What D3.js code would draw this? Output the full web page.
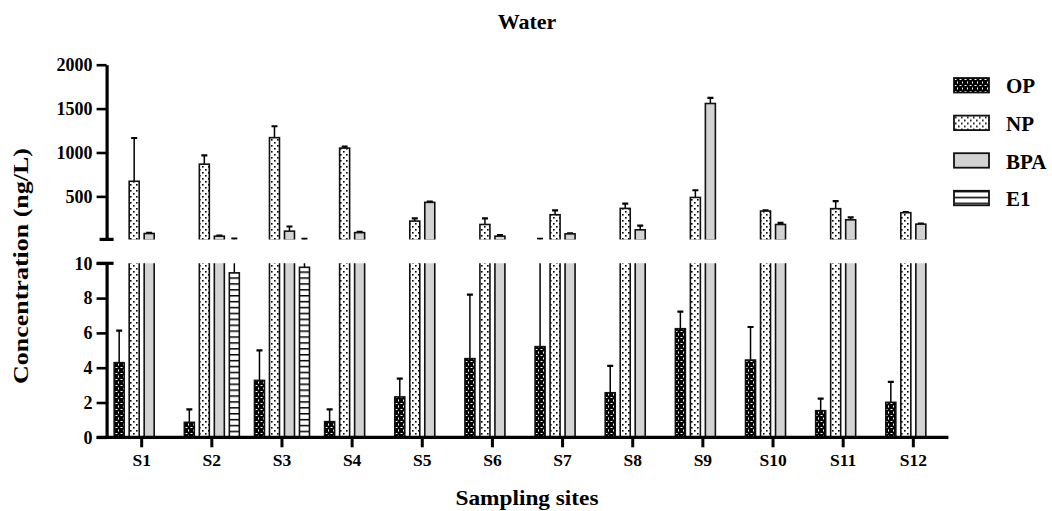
<!DOCTYPE html>
<html>
<head>
<meta charset="utf-8">
<script src="https://cdn.jsdelivr.net/npm/d3@7"></script>
<style>
  body { margin: 0; background: #fff; }
  text { font-family: "Liberation Serif", "Times New Roman", serif; font-weight: bold; }
</style>
</head>
<body>
<svg width="1052" height="511"></svg>
<script>
// data
const sites = ["S1", "S2", "S3", "S4", "S5", "S6", "S7", "S8", "S9", "S10", "S11", "S12"];
const series = ["OP", "NP", "BPA", "E1"];
const opValues  = [4.29, 0.86, 3.27, 0.9, 2.32, 4.52, 5.21, 2.56, 6.24, 4.44, 1.53, 2.01];
const opErrors  = [1.84, 0.75, 1.73, 0.71, 1.05, 3.68, 12, 1.54, 0.98, 1.9, 0.69, 1.17];
const npValues  = [672, 867, 1169, 1050, 219, 180, 291, 363, 488, 333, 360, 314];
const npErrors  = [493, 100, 130, 16, 30, 69, 49, 54, 82, 7, 87, 7];
const bpaValues = [77, 47, 104, 87, 432, 47, 73, 119, 1558, 180, 233, 184];
const bpaErrors = [8, 6, 53, 8, 8, 11, 6, 49, 65, 19, 27, 7];
const e1Values  = [0, 9.45, 9.77, 0, 0, 0, 0, 0, 0, 0, 0, 0];
const e1Errors  = [0, 8.5, 6, 0, 0, 0, 0, 0, 0, 0, 0, 0];
const upperTicks = [500, 1000, 1500, 2000];
const lowerTicks = [0, 2, 4, 6, 8, 10];

const valuesBySeries = { OP: opValues, NP: npValues, BPA: bpaValues, E1: e1Values };
const errorsBySeries = { OP: opErrors, NP: npErrors, BPA: bpaErrors, E1: e1Errors };

const svg = d3.select("svg");

const x = d3.scaleBand().domain(sites).range([106.6, 948.4]);
const inner = d3.scaleBand().domain(series).range([-27.5, 27.5]).paddingInner(1 / 3);
const yHigh = d3.scaleLinear().domain([10, 2000]).range([239.4, 64.7]);
const yLow = d3.scaleLinear().domain([0, 10]).range([437.3, 263.3]);
const axisX = x.range()[0];

// fill patterns
const defs = svg.append("defs");
const pOP = defs.append("pattern").attr("id", "pat-OP").attr("patternUnits", "userSpaceOnUse")
  .attr("width", 5).attr("height", 6);
pOP.append("rect").attr("width", 5).attr("height", 6).attr("fill", "#000");
pOP.append("rect").attr("x", 0.5).attr("y", 1).attr("width", 2).attr("height", 1).attr("fill", "#fff");
pOP.append("rect").attr("x", 3).attr("y", 3.5).attr("width", 1).attr("height", 2).attr("fill", "#fff");

const pNP = defs.append("pattern").attr("id", "pat-NP").attr("patternUnits", "userSpaceOnUse")
  .attr("width", 6).attr("height", 6);
pNP.append("rect").attr("width", 6).attr("height", 6).attr("fill", "#fff");
pNP.append("rect").attr("x", 1).attr("y", 1).attr("width", 1.6).attr("height", 1.6).attr("fill", "#000");
pNP.append("rect").attr("x", 4).attr("y", 4).attr("width", 1.6).attr("height", 1.6).attr("fill", "#000");

const pE1 = defs.append("pattern").attr("id", "pat-E1").attr("patternUnits", "userSpaceOnUse")
  .attr("width", 6).attr("height", 5.9);
pE1.append("rect").attr("width", 6).attr("height", 5.9).attr("fill", "#fff");
pE1.append("rect").attr("y", 0).attr("width", 6).attr("height", 1.5).attr("fill", "#000");

const fills = { OP: "url(#pat-OP)", NP: "url(#pat-NP)", BPA: "#d3d3d3", E1: "url(#pat-E1)" };

defs.append("clipPath").attr("id", "clip-high").append("rect")
  .attr("x", axisX).attr("y", 40).attr("width", 900).attr("height", yHigh(10) - 40);
defs.append("clipPath").attr("id", "clip-low").append("rect")
  .attr("x", axisX).attr("y", yLow(10)).attr("width", 900).attr("height", yLow(0) - yLow(10));

const bars = [];
sites.forEach((s, i) => {
  series.forEach(k => {
    bars.push({ site: s, key: k, v: valuesBySeries[k][i], e: errorsBySeries[k][i] });
  });
});
const drawn = bars.filter(d => d.v > 0);

function drawPanel(y, clipId, bottomVal, minVal) {
  const g = svg.append("g").attr("clip-path", `url(#${clipId})`);
  const bx = d => x(d.site) + x.bandwidth() / 2 + inner(d.key);
  const errs = g.selectAll(".err").data(drawn.filter(d => d.e > 0 && d.v + d.e > minVal)).join("g");
  errs.append("line")
    .attr("x1", d => bx(d) + inner.bandwidth() / 2).attr("x2", d => bx(d) + inner.bandwidth() / 2)
    .attr("y1", d => y(d.v)).attr("y2", d => y(d.v + d.e))
    .attr("stroke", "#000").attr("stroke-width", 1.5);
  errs.append("line")
    .attr("x1", d => bx(d) + inner.bandwidth() / 2 - 3).attr("x2", d => bx(d) + inner.bandwidth() / 2 + 3)
    .attr("y1", d => y(d.v + d.e)).attr("y2", d => y(d.v + d.e))
    .attr("stroke", "#000").attr("stroke-width", 2.2);
  g.selectAll(".bar").data(drawn.filter(d => d.v > minVal)).join("rect")
    .attr("x", bx)
    .attr("width", inner.bandwidth())
    .attr("y", d => y(d.v))
    .attr("height", d => y(bottomVal) - y(d.v))
    .attr("fill", d => fills[d.key])
    .attr("stroke", "#111").attr("stroke-width", 1.6);
}
drawPanel(yHigh, "clip-high", 0, 10);
drawPanel(yLow, "clip-low", 0, 0);

// y axes
function styleAxis(g) {
  g.select(".domain").attr("stroke-width", 3.2);
  g.selectAll(".tick line").attr("stroke-width", 2.6);
  g.selectAll(".tick text").attr("font-size", 18).attr("fill", "#000")
    .style("font-family", "'Liberation Serif', serif").style("font-weight", "bold");
}
svg.append("g").attr("transform", `translate(${axisX},0)`)
  .call(d3.axisLeft(yHigh).tickValues(upperTicks).tickFormat(d3.format("d"))
    .tickSize(10).tickSizeOuter(0).tickPadding(4))
  .call(styleAxis);
svg.append("g").attr("transform", `translate(${axisX},0)`)
  .call(d3.axisLeft(yLow).tickValues(lowerTicks).tickFormat(d3.format("d"))
    .tickSize(10).tickSizeOuter(0).tickPadding(4))
  .call(styleAxis);

// break marks on the y axis
[yHigh(10), yLow(10)].forEach((yy, i) => {
  svg.append("line").attr("x1", axisX - (i ? 10 : 7)).attr("x2", axisX + 7)
    .attr("y1", yy).attr("y2", yy).attr("stroke", "#000").attr("stroke-width", 3.2);
});

// x axis
const gx = svg.append("g").attr("transform", `translate(0,${yLow(0)})`)
  .call(d3.axisBottom(x).tickSize(10).tickSizeOuter(0).tickPadding(6));
gx.select(".domain").remove();
gx.append("line").attr("x1", axisX - 10).attr("x2", x.range()[1])
  .attr("stroke", "#000").attr("stroke-width", 3.2);
gx.selectAll(".tick line").attr("stroke-width", 3);
gx.selectAll(".tick text").attr("font-size", 17.5).attr("fill", "#000")
  .style("font-family", "'Liberation Serif', serif").style("font-weight", "bold");

// titles
svg.append("text").attr("x", 527).attr("y", 29).attr("text-anchor", "middle")
  .attr("font-size", 22).text("Water");
svg.append("text").attr("transform", "translate(28,266) rotate(-90)").attr("text-anchor", "middle")
  .attr("font-size", 21).attr("textLength", 236).attr("lengthAdjust", "spacingAndGlyphs")
  .text("Concentration (ng/L)");
svg.append("text").attr("x", 527).attr("y", 505).attr("text-anchor", "middle")
  .attr("font-size", 21).attr("textLength", 143).attr("lengthAdjust", "spacingAndGlyphs")
  .text("Sampling sites");

// legend
const legend = svg.append("g").selectAll("g").data(series).join("g")
  .attr("transform", (d, i) => `translate(954,${78 + i * 37.6})`);
legend.append("rect").attr("width", 35).attr("height", 14.5)
  .attr("fill", d => fills[d]).attr("stroke", "#111").attr("stroke-width", 1.8);
legend.append("text").attr("x", 52).attr("y", 8).attr("dy", "0.35em")
  .attr("font-size", 21).text(d => d);
</script>
</body>
</html>
